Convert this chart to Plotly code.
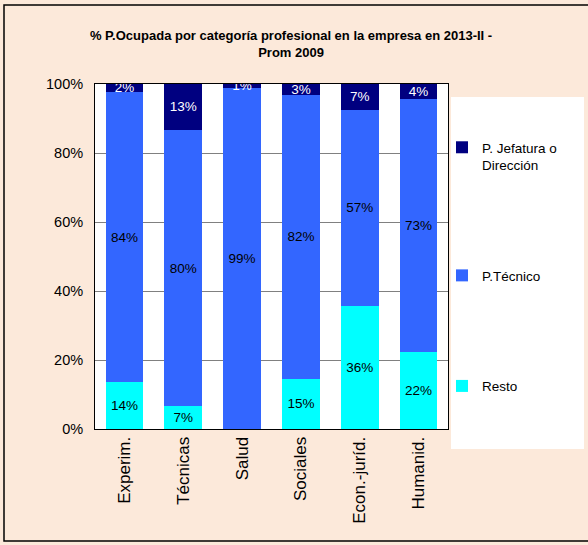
import plotly.graph_objects as go

# categories (x axis)
categories = ["Experim.", "Técnicas", "Salud", "Sociales", "Econ.-juríd.", "Humanid."]

# % of employed people by professional category (stacked to 100)
resto = [13.6, 6.6, 0.0, 14.6, 35.6, 22.3]
tecnico = [84.1, 80.1, 98.9, 82.3, 57.0, 73.4]
jefatura = [2.3, 13.3, 1.1, 3.1, 7.4, 4.3]

title = "% P.Ocupada por categoría profesional en la empresa en 2013-II -<br>Prom 2009"
FONT = "Liberation Sans, Arial, sans-serif"
BG = "#FCE9DA"


def labels(vals):
    return [f"{v:.0f}%" if v >= 0.5 else "" for v in vals]


# bottom to top in the stack; rank puts the top segment first in the legend
series = [
    ("Resto", resto, "#00FFFF", "black", 3),
    ("P.Técnico", tecnico, "#3366FF", "black", 2),
    ("P. Jefatura o<br>Dirección", jefatura, "#000080", "white", 1),
]

fig = go.Figure()
for name, vals, color, tcolor, rank in series:
    fig.add_trace(go.Bar(
        x=categories,
        y=vals,
        name=name,
        legendgroup=name,
        legendrank=rank,
        marker=dict(color=color, line=dict(width=0)),
        text=labels(vals),
        textposition="inside",
        insidetextanchor="middle",
        textangle=0,
        textfont=dict(family=FONT, size=13.5, color=tcolor),
        hoverinfo="skip",
    ))

# plot area geometry (px) used to place background shapes
L, R, T, B = 95, 140, 84, 116
W, H = 588 - L - R, 545 - T - B

fig.update_layout(
    width=588,
    height=545,
    barmode="stack",
    bargap=0.36,
    paper_bgcolor=BG,
    plot_bgcolor="white",
    margin=dict(l=L, r=R, t=T, b=B),
    font=dict(family=FONT, color="black"),
    title=dict(
        text=title,
        x=0.495, xanchor="center",
        y=1 - 40 / 545, yanchor="middle",
        font=dict(family=FONT, size=13, color="black", weight="bold"),
    ),
    showlegend=True,
    legend=dict(
        x=(442 - L) / W, xanchor="left",
        y=1 - (132 - T) / H, yanchor="top",
        traceorder="grouped",
        tracegroupgap=90,
        valign="top",
        bgcolor="rgba(0,0,0,0)",
        font=dict(family=FONT, size=13.5, color="black"),
    ),
    uniformtext=dict(minsize=13.5, mode="show"),
    shapes=[
        # legend white panel
        dict(type="rect", xref="paper", yref="paper", layer="below",
             x0=(451 - L) / W, x1=(584 - L) / W,
             y0=1 - (449 - T) / H, y1=1 - (97 - T) / H,
             fillcolor="white", line=dict(width=0)),
        # outer chart border
        dict(type="rect", xref="paper", yref="paper", layer="below",
             x0=(4 - L) / W, x1=(600 - L) / W,
             y0=1 - (541 - T) / H, y1=1 - (5 - T) / H,
             fillcolor="rgba(0,0,0,0)", line=dict(color="black", width=1.5)),
    ],
)

fig.update_xaxes(
    tickangle=-90,
    tickfont=dict(family=FONT, size=17, color="black"),
    showline=True, mirror=True, linecolor="black", linewidth=1,
    ticks="", showgrid=False,
)
fig.update_yaxes(
    range=[0, 100],
    dtick=20,
    ticksuffix="%",
    tickfont=dict(family=FONT, size=14.5, color="black"),
    ticklabelstandoff=8,
    showline=True, mirror=True, linecolor="black", linewidth=1,
    showgrid=True, gridcolor="#808080", gridwidth=1,
    zeroline=False,
)

fig.write_html("out.html", config={"displayModeBar": False},
               post_script="document.body.style.margin='0';")
